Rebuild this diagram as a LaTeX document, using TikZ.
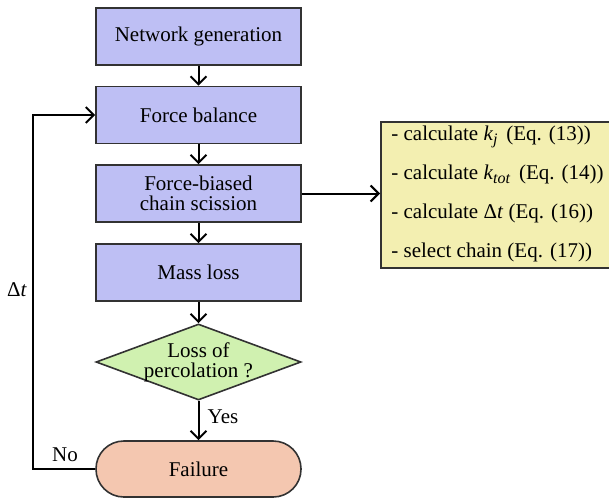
\documentclass[tikz,border=0pt]{standalone}
\usepackage{fontspec}
\setmainfont{Liberation Serif}
\usetikzlibrary{arrows.meta,shapes.geometric}
\definecolor{boxblue}{RGB}{190,191,244}
\definecolor{boxgreen}{RGB}{208,241,176}
\definecolor{boxred}{RGB}{244,199,176}
\definecolor{boxyellow}{RGB}{243,239,177}
\definecolor{edgegray}{RGB}{50,50,50}
\begin{document}
\begin{tikzpicture}[x=0.5pt,y=-0.5pt,
  every node/.style={font=\fontsize{10.5}{10}\selectfont},
  stepbox/.style={draw=edgegray,line width=0.8pt,fill=boxblue,minimum width=102.5pt,minimum height=28.5pt,inner sep=0pt,align=center},
  decbox/.style={draw=edgegray,line width=0.8pt,fill=boxgreen,diamond,minimum width=102.5pt,minimum height=38pt,inner sep=0pt},
  endbox/.style={draw=edgegray,line width=0.8pt,fill=boxred,minimum width=102.5pt,minimum height=28pt,inner sep=0pt,rounded corners=13.9pt},
  notebox/.style={draw=edgegray,line width=0.8pt,fill=boxyellow,minimum width=120pt,minimum height=73pt,inner sep=0pt,anchor=north west},
  arr/.style={line width=1pt,-{Straight Barb[length=4pt,width=8pt]}},
  conn/.style={line width=1pt}]
\useasboundingbox (0,0) rectangle (609,498);
\node[stepbox] (ng) at (198.5,36.5) {Network generation};
\node[stepbox] (fb) at (198.5,115) {Force balance};
\node[stepbox] (fc) at (198.5,193.5) {Force-biased\\chain scission};
\node[stepbox] (ml) at (198.5,272.5) {Mass loss};
\node[decbox] (lp) at (198.5,362) {};
\node[align=center] (lpt) at (lp.center) {Loss of\\percolation ?};
\node[endbox] (fl) at (198.5,469) {Failure};
\node[notebox] (calc) at (380,121) {};
\node[anchor=west,align=left,inner sep=0pt,font=\fontsize{10.5}{19.5}\selectfont] (calct) at (391,194)
  {- calculate \textit{k}\raisebox{-0.4ex}{\footnotesize\textit{j}}\, (Eq. (13))\\
   - calculate \textit{k}\raisebox{-0.4ex}{\footnotesize\textit{tot}}\, (Eq. (14))\\
   - calculate Δ\textit{t} (Eq. (16))\\
   - select chain (Eq. (17))};
\draw[arr] (ng) -- (fb);
\draw[arr] (fb) -- (fc);
\draw[arr] (fc) -- (ml);
\draw[arr] (ml) -- (lp);
\draw[arr] (lp) -- (fl);
\draw[arr] (fc.east) -- (calc.west |- fc.east);
\coordinate (lc) at (33,469);
\draw[arr] (fl.west) -- (lc) |- (fb.west);
\node (dt) at (17,290) {Δ\textit{t}};
\node (no) at (65,455) {No};
\node (yes) at (223,417) {Yes};
\end{tikzpicture}
\end{document}
